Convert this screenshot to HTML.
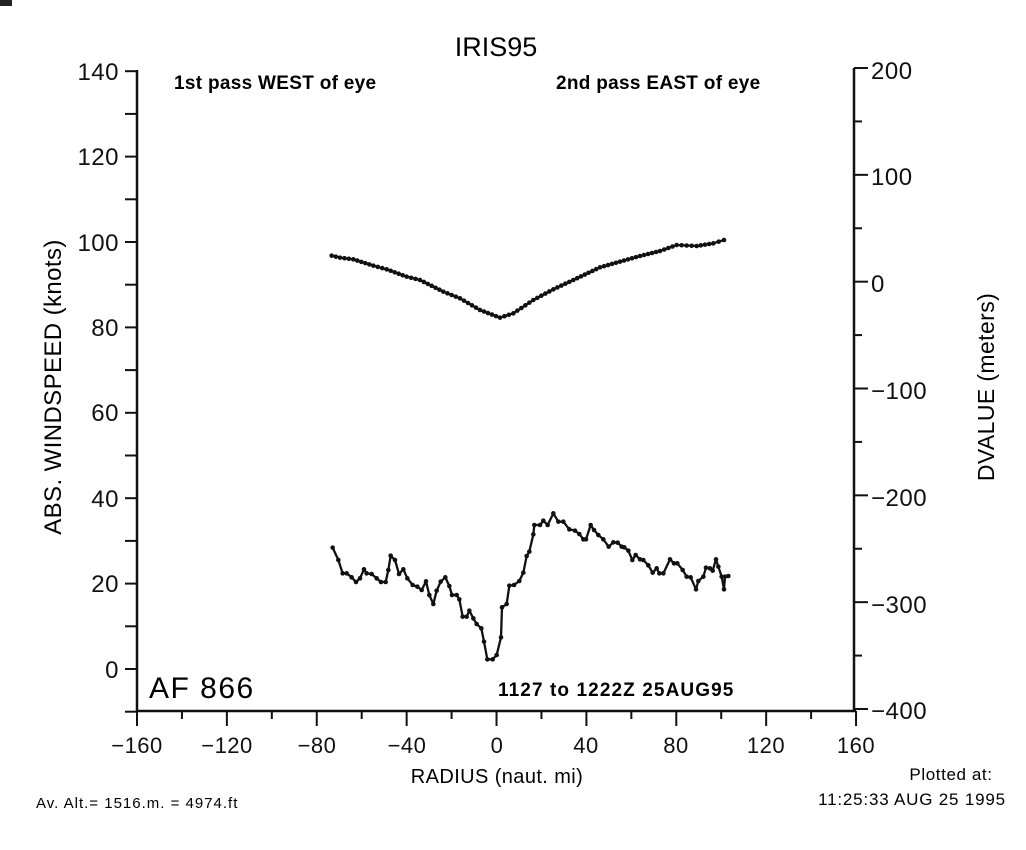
<!DOCTYPE html>
<html><head><meta charset="utf-8"><style>
html,body{margin:0;padding:0;background:#fff;}
svg{display:block;font-family:"Liberation Sans",Arial,sans-serif;}
</style></head><body>
<svg id="s" width="1026" height="850" viewBox="0 0 1026 850" xmlns="http://www.w3.org/2000/svg">
<rect width="1026" height="850" fill="#fff"/>
<rect x="0" y="0" width="12" height="6" fill="#222"/>
<text x="496" y="56" font-size="27" text-anchor="middle">IRIS95</text>
<g stroke="#111" stroke-width="2.5" fill="none">
<line x1="137" y1="70" x2="137" y2="712"/>
<line x1="136" y1="711" x2="856" y2="711"/>
<line x1="854" y1="68" x2="854" y2="712"/>
</g>
<g id="ticks" stroke="#111" stroke-width="2"></g>
<g font-size="24" text-anchor="end" fill="#111" letter-spacing="0.5">
<text x="119" y="80">140</text><text x="119" y="165">120</text><text x="119" y="251">100</text>
<text x="119" y="336">80</text><text x="119" y="421">60</text><text x="119" y="507">40</text>
<text x="119" y="592">20</text><text x="119" y="678">0</text>
</g>
<g font-size="24" fill="#111" letter-spacing="0.5">
<text x="871" y="79">200</text><text x="871" y="185">100</text><text x="871" y="292">0</text>
<text x="871" y="399">−100</text><text x="871" y="506">−200</text><text x="871" y="613">−300</text><text x="871" y="719">−400</text>
</g>
<g font-size="22" text-anchor="middle" fill="#111" letter-spacing="0.5">
<text x="137" y="753">−160</text><text x="227" y="753">−120</text><text x="317" y="753">−80</text>
<text x="407" y="753">−40</text><text x="497" y="753">0</text><text x="586" y="753">40</text>
<text x="676" y="753">80</text><text x="766" y="753">120</text><text x="856" y="753">160</text>
</g>
<text x="497" y="783" font-size="20" text-anchor="middle" letter-spacing="0.4">RADIUS (naut. mi)</text>
<text transform="translate(61,387) rotate(-90)" font-size="24" text-anchor="middle" letter-spacing="0.4">ABS. WINDSPEED (knots)</text>
<text transform="translate(994,387) rotate(-90)" font-size="23" text-anchor="middle" letter-spacing="0.4">DVALUE (meters)</text>
<text x="174" y="89" font-size="19" font-weight="bold" letter-spacing="0.3">1st pass WEST of eye</text>
<text x="556" y="89" font-size="19" font-weight="bold" letter-spacing="0.3">2nd pass EAST of eye</text>
<text x="149" y="698" font-size="30" letter-spacing="1.5">AF 866</text>
<text x="498" y="696" font-size="19" font-weight="bold" letter-spacing="1.1">1127 to 1222Z 25AUG95</text>
<text x="36" y="808" font-size="15" letter-spacing="1">Av. Alt.= 1516.m. =  4974.ft</text>
<text x="951" y="780" font-size="17" text-anchor="middle" letter-spacing="0.6">Plotted at:</text>
<text x="912" y="805" font-size="17" text-anchor="middle" letter-spacing="0.8">11:25:33 AUG 25 1995</text>
<g id="data"></g>
</svg>
<script>
var NS="http://www.w3.org/2000/svg";
var T=document.getElementById("ticks");
function L(x1,y1,x2,y2){var l=document.createElementNS(NS,"line");l.setAttribute("x1",x1);l.setAttribute("y1",y1);l.setAttribute("x2",x2);l.setAttribute("y2",y2);T.appendChild(l);}
for(var k=-10;k<=140;k+=10){var y=669-k*4.27;L(125,y,137,y);}
for(var m=-400;m<=200;m+=50){var y=709-(m+400)*1.0683;L(854,y,(m%100==0)?868:862,y);}
for(var r=-160;r<=160;r+=20){var x=137+(r+160)*2.247;L(x,711,x,(r%40==0)?726:719);}
var D=document.getElementById("data");
function series(pts,ox,oy,dens){
 var P=pts.map(function(p){return [ox+p[0]/3,oy+p[1]/3];});
 var pl=document.createElementNS(NS,"polyline");
 pl.setAttribute("points",P.map(function(p){return p.join(",")}).join(" "));
 pl.setAttribute("fill","none");pl.setAttribute("stroke","#111");pl.setAttribute("stroke-width","2.3");pl.setAttribute("stroke-linejoin","round");
 D.appendChild(pl);
 var dots=[];
 for(var i=0;i<P.length;i++){dots.push(P[i]);
  if(dens&&i<P.length-1){var dx=P[i+1][0]-P[i][0],dy=P[i+1][1]-P[i][1];var n=Math.max(1,Math.round(Math.hypot(dx,dy)/dens));
   for(var j=1;j<n;j++)dots.push([P[i][0]+dx*j/n,P[i][1]+dy*j/n]);}}
 dots.forEach(function(p){var c=document.createElementNS(NS,"circle");c.setAttribute("cx",p[0]);c.setAttribute("cy",p[1]);c.setAttribute("r",2.3);c.setAttribute("fill","#111");D.appendChild(c);});
}
var up=[[35,77],[60,83],[100,88],[160,107],[200,118],[260,140],[300,150],[370,185],[420,205],[480,240],[540,263],[580,250],[640,210],[700,178],[760,150],[840,112],[900,95],[960,78],[1020,63],[1070,45],[1130,48],[1180,40],[1212,30]];
series(up,320,230,4.5);
var lo=[[38,143],[55,180],[68,220],[80,220],[95,232],[108,246],[120,235],[132,208],[140,220],[155,222],[170,235],[183,246],[197,246],[205,210],[212,167],[225,180],[237,222],[250,208],[262,235],[278,255],[292,260],[305,270],[318,244],[328,285],[340,312],[350,272],[362,245],[376,232],[388,258],[396,285],[410,285],[418,298],[428,350],[440,350],[448,332],[460,355],[470,372],[484,385],[492,425],[502,478],[518,478],[530,465],[543,412],[546,322],[560,312],[568,257],[582,255],[598,243],[610,218],[620,168],[628,155],[640,103],[643,75],[660,75],[670,62],[683,75],[700,40],[715,65],[730,65],[748,88],[765,92],[778,102],[790,118],[798,118],[812,75],[822,90],[835,105],[850,118],[866,140],[880,127],[893,128],[905,140],[913,142],[925,152],[937,180],[947,165],[960,178],[970,180],[985,196],[998,218],[1010,205],[1018,220],[1030,220],[1050,178],[1062,190],[1072,190],[1088,210],[1100,230],[1112,232],[1128,268],[1135,243],[1150,230],[1158,203],[1170,205],[1178,212],[1188,178],[1195,200],[1205,230],[1212,268],[1215,230],[1225,228]];
series(lo,320,500,0);
</script>
</body></html>
